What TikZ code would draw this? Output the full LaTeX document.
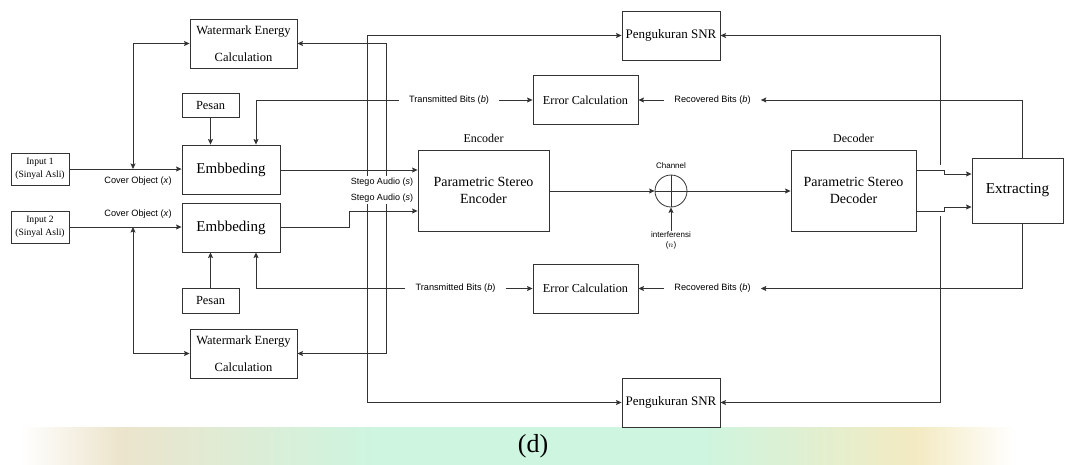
\documentclass[tikz,border=0pt]{standalone}
\usepackage{fontspec}
\setmainfont{Liberation Serif}
\newfontfamily\arialf{Liberation Sans}
\usetikzlibrary{arrows.meta,shapes.geometric}
\definecolor{linec}{HTML}{333333}
\definecolor{bandbeige}{HTML}{ECE4CC}
\definecolor{bandmint}{HTML}{CDF5E0}
\definecolor{bandyel}{HTML}{F3EAC2}
\pgfdeclarehorizontalshading{bandshade}{100bp}{color(0bp)=(white); color(25bp)=(white); color(30bp)=(bandbeige); color(43bp)=(bandmint); color(59bp)=(bandmint); color(70bp)=(bandyel); color(75bp)=(white); color(100bp)=(white)}
\tikzset{
  box/.style={draw=linec, line width=0.9pt, inner sep=0pt, align=center, fill=white},
  arr/.style={draw=linec, line width=0.8pt, -{Stealth[length=5.5pt,width=5pt,inset=1pt]}},
  both/.style={draw=linec, line width=0.8pt, {Stealth[length=5.5pt,width=5pt,inset=1pt]}-{Stealth[length=5.5pt,width=5pt,inset=1pt]}},
  plain/.style={draw=linec, line width=0.8pt},
  lbl/.style={inner sep=0pt, font=\arialf\fontsize{9.2}{11}\selectfont},
  biglbl/.style={font=\fontsize{12.5}{27}\selectfont},
}
\begin{document}
\begin{tikzpicture}[x=1pt,y=-1pt]
\useasboundingbox (0,0) rectangle (1065,464);
% bottom band
\shade[shading=bandshade] (20,427) rectangle (1015,464);
\node[font=\fontsize{26}{28}\selectfont] (cap) at (533,446) {(d)};

% boxes
\node[box, minimum width=107pt, minimum height=49pt, biglbl] (we1) at (243.5,43.5) {Watermark Energy\\Calculation};
\node[box, minimum width=107pt, minimum height=49pt, biglbl] (we2) at (243.5,353.5) {Watermark Energy\\Calculation};
\node[box, minimum width=57pt, minimum height=24pt, font=\fontsize{12.4}{14}\selectfont] (pes1) at (210.5,105) {Pesan};
\node[box, minimum width=57pt, minimum height=25pt, font=\fontsize{12.4}{14}\selectfont] (pes2) at (210.5,300.5) {Pesan};
\node[box, minimum width=98pt, minimum height=49pt, font=\fontsize{15}{17}\selectfont] (emb1) at (231,169.5) {Embbeding};
\node[box, minimum width=98pt, minimum height=49pt, font=\fontsize{15}{17}\selectfont] (emb2) at (231,227.5) {Embbeding};
\node[box, minimum width=58pt, minimum height=32pt, font=\fontsize{9.6}{13}\selectfont] (in1) at (40,169) {Input 1\\(Sinyal Asli)};
\node[box, minimum width=58pt, minimum height=32pt, font=\fontsize{9.6}{13}\selectfont] (in2) at (40,227) {Input 2\\(Sinyal Asli)};
\node[box, minimum width=98pt, minimum height=49pt, font=\fontsize{13}{15}\selectfont] (snr1) at (671,35.5) {Pengukuran SNR};
\node[box, minimum width=98pt, minimum height=49pt, font=\fontsize{13}{15}\selectfont] (snr2) at (671,402.5) {Pengukuran SNR};
\node[box, minimum width=105pt, minimum height=49pt, font=\fontsize{12.2}{14}\selectfont] (err1) at (585.5,100) {Error Calculation};
\node[box, minimum width=105pt, minimum height=49pt, font=\fontsize{12.2}{14}\selectfont] (err2) at (585.5,288.5) {Error Calculation};
\node[box, minimum width=131pt, minimum height=81pt, font=\fontsize{14}{17}\selectfont] (enc) at (483.5,190.5) {Parametric Stereo\\Encoder};
\node[box, minimum width=125pt, minimum height=81pt, font=\fontsize{14}{17}\selectfont] (dec) at (853.5,190.5) {Parametric Stereo\\Decoder};
\node[box, minimum width=91pt, minimum height=65pt, font=\fontsize{15.2}{17}\selectfont] (ext) at (1017.5,190.5) {Extracting};
\node[font=\fontsize{12}{14}\selectfont] (enclbl) at (483.5,138) {Encoder};
\node[font=\fontsize{12}{14}\selectfont] (declbl) at (853.5,138) {Decoder};

% channel
\node[circle, draw=linec, line width=0.8pt, minimum size=32pt, inner sep=0pt] (ch) at (671,191) {};
\draw[plain] (ch.north) -- (ch.south);
\draw[plain] (ch.west) -- (ch.east);
\node[lbl, font=\arialf\fontsize{8}{10}\selectfont] (chlbl) at (671,166) {Channel};
\node[lbl, font=\arialf\fontsize{8}{10}\selectfont, align=center] (intf) at (671,240) {interferensi\\($n$)};

% labels
\node[lbl] (co1) at (138,181) {Cover Object (\textit{x})};
\node[lbl] (co2) at (138,214) {Cover Object (\textit{x})};
\node[lbl, inner xsep=10pt] (tb1) at (449,100) {Transmitted Bits (\textit{b})};
\node[lbl, inner xsep=10pt] (tb2) at (455.5,288.5) {Transmitted Bits (\textit{b})};
\node[lbl, inner xsep=10pt] (rb1) at (712.5,100) {Recovered Bits (\textit{b})};
\node[lbl, inner xsep=10pt] (rb2) at (712.5,288.5) {Recovered Bits (\textit{b})};

% coordinates
\coordinate (c1) at (133,43.5);
\coordinate (c2) at (133,353.5);
\coordinate (r1) at (386,43.5);
\coordinate (r2) at (386,353.5);
\coordinate (s1) at (367,35.5);
\coordinate (s2) at (367,402.5);
\coordinate (k1) at (940,35.5);
\coordinate (k2) at (940,165);
\coordinate (k3) at (940,216);
\coordinate (k4) at (940,402.5);
\coordinate (e1) at (1022,100);
\coordinate (e2) at (1022,288.5);
\coordinate (t1) at (256,100);
\coordinate (t2) at (256,288.5);
\coordinate (m1) at (349,227.5);
\coordinate (m2) at (349,211);
\coordinate (d1) at (944,170);
\coordinate (d2) at (944,174);
\coordinate (d3) at (944,211);
\coordinate (d4) at (944,207);

% connectors
\draw[arr] (in1.east) -- (in1.east -| emb1.west);
\draw[arr] (in2.east) -- (in2.east -| emb2.west);
\draw[both] (c1 |- in1.east) -- (c1) -- (we1.west);
\draw[both] (c2 |- in2.east) -- (c2) -- (we2.west);
\draw[arr] (pes1.south) -- (emb1.north -| pes1.south);
\draw[arr] (pes2.north) -- (emb2.south -| pes2.north);
\draw[arr] (tb1.west) -- (t1) -- (t1 |- emb1.north);
\draw[arr] (tb2.west) -- (t2) -- (t2 |- emb2.south);
\draw[arr] (tb1.east) -- (tb1.east -| err1.west);
\draw[arr] (tb2.east) -- (tb2.east -| err2.west);
\draw[both] (we1.east) -- (r1) -- (r2) -- (we2.east);
\draw[both] (snr1.west) -- (s1) -- (s2) -- (snr2.west);
\draw[arr] (emb1.east |- 0,170) -- (enc.west |- 0,170);
\draw[arr] (emb2.east) -- (m1) -- (m2) -- (m2 -| enc.west);
\draw[arr] (enc.east |- ch.west) -- (ch.west);
\draw[arr] (ch.east) -- (ch.east -| dec.west);
\draw[arr] (intf.north) -- (ch.south);
\draw[arr] (d1 -| dec.east) -- (d1) -- (d2) -- (d2 -| ext.west);
\draw[arr] (d3 -| dec.east) -- (d3) -- (d4) -- (d4 -| ext.west);
\draw[arr] (k2) -- (k1) -- (snr1.east);
\draw[arr] (k3) -- (k4) -- (snr2.east);
\draw[arr] (e1 |- ext.north) -- (e1) -- (rb1.east);
\draw[arr] (e2 |- ext.south) -- (e2) -- (rb2.east);
\draw[arr] (rb1.west) -- (rb1.west -| err1.east);
\draw[arr] (rb2.west) -- (rb2.west -| err2.east);

% stego labels (on top, masking verticals)
\node[lbl, fill=white, align=right, inner sep=2pt, font=\arialf\fontsize{9}{16}\selectfont] (stego) at (382,190) {Stego Audio (\textit{s})\\Stego Audio (\textit{s})};
\end{tikzpicture}
\end{document}
